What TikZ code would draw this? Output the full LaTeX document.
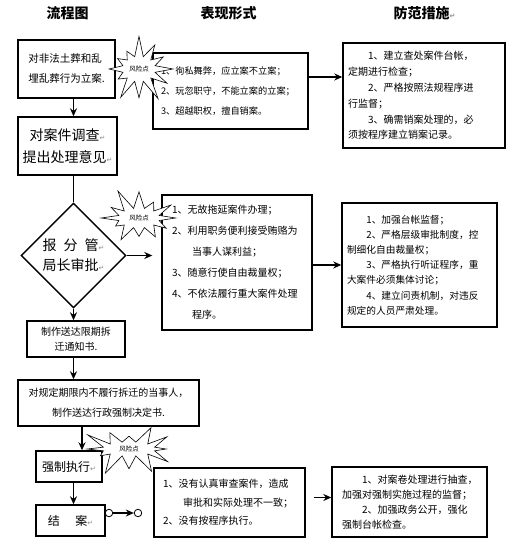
\documentclass[tikz,border=0pt]{standalone}
\usepackage{fontspec}
\setmainfont{Noto Sans CJK SC}
\newfontfamily\symfont{DejaVu Sans}
\usepackage{tikz}
\usetikzlibrary{shapes.geometric, shapes.symbols, arrows.meta, calc}
\newcommand{\pmark}{{\symfont\color{black!45}\fontsize{7}{7}\selectfont ↵}}
\tikzset{
  flowbox/.style={draw, line width=1.4pt, fill=white, inner sep=0pt, align=center},
  riskbox/.style={draw, line width=1.4pt, fill=white, align=left, inner ysep=0pt},
  riskstar/.style={starburst, starburst points=12, starburst point height=22pt, random starburst=7,
    draw, line width=0.6pt, fill=white, inner xsep=2pt, inner ysep=4pt, font=\fontsize{6.5}{7}\selectfont},
  arr/.style={line width=1.4pt, -{Stealth[length=8pt,width=7pt]}},
  head/.style={font=\bfseries\fontsize{14}{16}\selectfont},
  dot/.style={circle, draw, line width=0.8pt, fill=white, inner sep=0pt, minimum size=7.5pt}
}

\begin{document}
\begin{tikzpicture}[x=1pt, y=-1pt]
  \fill[white] (0,0) rectangle (520,549);
  \useasboundingbox (0,0) rectangle (520,549);

  % Headers
  \node[head] (hflow) at (67.5,13) {流程图};
  \node[head] (hrisk) at (228.5,13) {表现形式};
  \node[head, anchor=west] (hguard) at (390,13) {防范措施\pmark};

  % Filing
  \node[flowbox, minimum width=97pt, minimum height=58pt, align=left, font=\fontsize{10.5}{20}\selectfont] (filing) at (66.5,69) {
    对非法土葬和乱\\埋乱葬行为立案.
  };
  \node[riskbox, inner xsep=8pt, text width=139pt, minimum height=76pt, font=\fontsize{9.2}{20}\selectfont] (risk1) at (230.5,91) {
    1、徇私舞弊，应立案不立案；\\
    2、玩忽职守，不能立案的立案；\\
    3、超越职权，擅自销案。
  };
  \node[riskbox, inner xsep=5pt, text width=152pt, minimum height=105pt, font=\fontsize{10}{15.8}\selectfont] (guard1) at (424,95.5) {
    \hspace*{2em}1、建立查处案件台帐，\\
    定期进行检查；\\
    \hspace*{2em}2、严格按照法规程序进\\
    行监督；\\
    \hspace*{2em}3、确需销案处理的，必\\
    须按程序建立销案记录。
  };

  % Survey
  \node[flowbox, minimum width=99pt, minimum height=58pt, font=\fontsize{14}{22}\selectfont] (survey) at (67.5,146) {
    对案件调查\pmark\\提出处理意见\pmark
  };

  % Approval
  \node[flowbox, diamond, aspect=1, minimum width=105pt, minimum height=105pt, font=\fontsize{14}{20}\selectfont] (approve) at (73.5,255.5) {
    报\hspace{0.5em}分\hspace{0.5em}管\pmark\\局长审批\pmark
  };
  \node[riskbox, inner xsep=10pt, text width=130pt, minimum height=135pt, font=\fontsize{10}{21}\selectfont] (risk2) at (237,262.5) {
    1、无故拖延案件办理；\\
    2、利用职务便利接受贿赂为\\
    \hspace*{2em}当事人谋利益；\\
    3、随意行使自由裁量权；\\
    4、不依法履行重大案件处理\\
    \hspace*{2em}程序。
  };
  \node[riskbox, inner xsep=5pt, text width=145pt, minimum height=124pt, font=\fontsize{9.7}{15.2}\selectfont] (guard2) at (419.5,265) {
    \hspace*{2em}1、加强台帐监督；\\
    \hspace*{2em}2、严格层级审批制度，控\\
    制细化自由裁量权；\\
    \hspace*{2em}3、严格执行听证程序，重\\
    大案件必须集体讨论；\\
    \hspace*{2em}4、建立问责机制，对违反\\
    规定的人员严肃处理。
  };

  % Notice and decision
  \node[flowbox, minimum width=98pt, minimum height=36pt, font=\fontsize{10}{15}\selectfont] (notice) at (76,339) {
    制作送达限期拆\\迁通知书.
  };
  \node[flowbox, minimum width=181pt, minimum height=46pt, font=\fontsize{10}{20}\selectfont] (decision) at (108.5,403) {
    对规定期限内不履行拆迁的当事人，\\制作送达行政强制决定书.
  };

  % Enforcement and closing
  \node[flowbox, minimum width=66pt, minimum height=31pt, font=\fontsize{12}{14}\selectfont] (enforce) at (69,466.5) {强制执行\pmark};
  \node[flowbox, minimum width=69pt, minimum height=31pt, font=\fontsize{12}{14}\selectfont] (close) at (70.5,520.5) {结\hspace{1.3em}案\pmark};
  \node[riskbox, inner xsep=9pt, text width=133pt, minimum height=69pt, font=\fontsize{10}{18.5}\selectfont] (risk3) at (229.5,502.5) {
    1、没有认真审查案件，造成\\
    \hspace*{2em}审批和实际处理不一致；\\
    2、没有按程序执行。
  };
  \node[riskbox, inner xsep=10pt, text width=135pt, minimum height=70pt, font=\fontsize{10}{15}\selectfont] (guard3) at (409.5,502) {
    \hspace*{2em}1、对案卷处理进行抽查，\\
    加强对强制实施过程的监督；\\
    \hspace*{2em}2、加强政务公开，强化\\
    强制台帐检查。
  };

  % Connectors
  \draw[arr] (filing.south -| approve.north) -- (survey.north -| approve.north);
  \draw[line width=1.4pt] (survey.south -| approve.north) -- (approve.north);
  \draw[arr] (approve.south) -- (notice.north -| approve.south);
  \draw[arr] (notice.south -| approve.south) -- (decision.north -| approve.south);
  \coordinate (enfin) at ([xshift=13pt]enforce.north);
  \draw[arr] (decision.south -| enfin) -- (enfin);
  \draw[arr] (enforce.south -| approve.south) -- (close.north -| approve.south);
  \draw[arr] ([yshift=14pt]risk1.east) -- ([yshift=14pt]risk1.east -| guard1.west);
  \draw[arr] (approve.east) -- ([xshift=-9pt]risk2.west |- approve.east);
  \draw[arr] (guard2.west -| risk2.east) -- (guard2.west);
  \draw[arr] ([xshift=8pt,yshift=5pt]risk3.east) -- ([yshift=5pt]risk3.east -| guard3.west);
  \node[dot] (endA) at (109,513) {};
  \node[dot] (endB) at (138,513) {};
  \draw[arr] (endA) -- (endB);

  % Risk points
  \node[riskstar, inner ysep=6pt] (star1) at (139,69) {风险点};
  \node[riskstar, inner xsep=5pt, random starburst=11] (star2) at (139,218) {风险点};
  \node[riskstar, inner xsep=9pt, inner ysep=2pt, random starburst=23] (star3) at (129,449) {风险点};
\end{tikzpicture}
\end{document}
